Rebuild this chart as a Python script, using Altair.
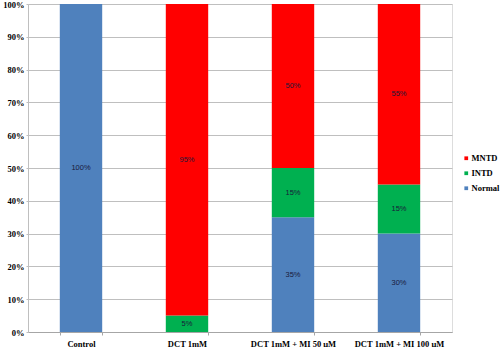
import altair as alt
import pandas as pd

categories = ["Control", "DCT 1mM", "DCT 1mM + MI 50 μM", "DCT 1mM + MI 100 μM"]
series = ["Normal", "INTD", "MNTD"]
normal = [100, 0, 35, 30]
intd = [0, 5, 15, 15]
mntd = [0, 95, 50, 55]
colors = ["#4F81BD", "#00B050", "#FF0000"]
legend_order = ["MNTD", "INTD", "Normal"]
y_ticks = [0, 10, 20, 30, 40, 50, 60, 70, 80, 90, 100]

rows = []
for i, c in enumerate(categories):
    for s, vals in zip(series, [normal, intd, mntd]):
        rows.append({"category": c, "series": s, "value": vals[i], "order": series.index(s)})
df = pd.DataFrame(rows)

W, H = 424, 328

base = alt.Chart(df).transform_filter("datum.value > 0").transform_stack(
    stack="value", as_=["v0", "v1"], groupby=["category"], sort=[alt.SortField("order", order="ascending")]
).transform_calculate(mid="(datum.v0 + datum.v1) / 2", label="datum.value + '%'")

xenc = alt.X("category:N", sort=categories,
             scale=alt.Scale(paddingInner=0.6, paddingOuter=0.3),
             axis=alt.Axis(title=None, labelAngle=0, labelFont="Liberation Serif", labelFontWeight="bold",
                           labelFontSize=8.5, labelColor="#000000", labelPadding=4,
                           domainColor="#a6a6a6", tickColor="#a6a6a6", tickSize=3, tickBand="extent",
                           grid=False))

yscale = alt.Scale(domain=[0, 100], nice=False)
yaxis = alt.Axis(title=None, values=y_ticks, labelExpr="datum.value + '%'",
                 labelOverlap=False, labelFlush=False,
                 labelFont="Liberation Serif", labelFontWeight="bold", labelFontSize=8.5,
                 labelColor="#000000", labelPadding=2, gridColor="#bfbfbf", domainColor="#bfbfbf",
                 tickColor="#bfbfbf", tickSize=2)

cmap = dict(zip(series, colors))

bars = base.mark_bar().encode(
    x=xenc,
    y=alt.Y("v0:Q", scale=yscale, axis=yaxis),
    y2="v1:Q",
    color=alt.Color("series:N", scale=alt.Scale(domain=legend_order, range=[cmap[s] for s in legend_order]),
                    legend=alt.Legend(title=None, orient="none", legendX=434, legendY=150,
                                      symbolType="square", symbolSize=14, symbolStrokeWidth=0,
                                      labelFont="Liberation Serif", labelFontWeight="bold",
                                      labelFontSize=8.5, labelColor="#000000", rowPadding=6,
                                      symbolOffset=0, labelOffset=1)),
)

texts = base.mark_text(font="Liberation Sans", fontSize=7.5, color="#1a1a3a").encode(
    x=alt.X("category:N", sort=categories, axis=None),
    y=alt.Y("mid:Q", scale=yscale, axis=None),
    text="label:N",
)

chart = alt.layer(bars, texts).resolve_axis(y="independent", x="independent").properties(
    width=W, height=H,
    autosize=alt.AutoSizeParams(type="none"),
    padding={"left": 28, "top": 4, "right": 48, "bottom": 15},
).configure_view(stroke=None).configure(background="#ffffff")

chart.save("out.html", embed_options={"renderer": "svg", "actions": False})
